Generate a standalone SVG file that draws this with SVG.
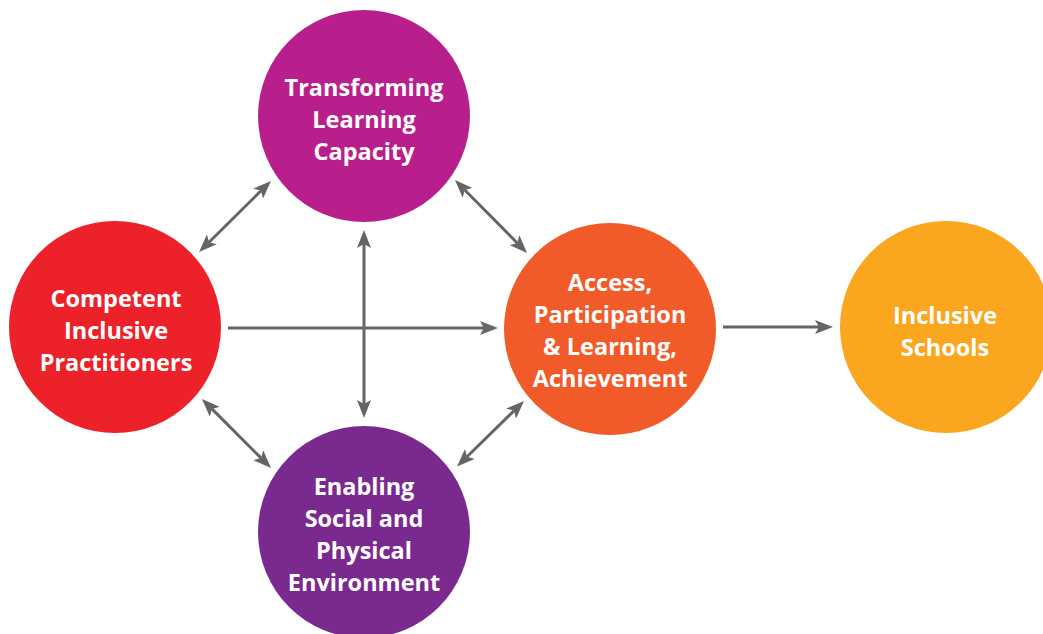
<svg xmlns="http://www.w3.org/2000/svg" width="1043" height="634" viewBox="0 0 1043 634">
<style>
.lbl{font-family:"Open Sans","Liberation Sans",sans-serif;font-weight:700;font-size:23.5px;fill:#fff;text-anchor:middle}
.conn{stroke:#656565;stroke-width:3;fill:none}
</style>
<defs>
<marker id="ah" viewBox="0 0 18 14" refX="4" refY="7" markerWidth="18" markerHeight="14" markerUnits="userSpaceOnUse" orient="auto-start-reverse">
<path d="M0,0 L18,7 L0,14 L4,7 Z" fill="#656565"/>
</marker>
</defs>
<rect width="1043" height="634" fill="#fff"/>
<g id="connectors">
<line class="conn" x1="228" y1="328" x2="484" y2="328" marker-end="url(#ah)"/>
<line class="conn" x1="723" y1="327" x2="819" y2="327" marker-end="url(#ah)"/>
<line class="conn" x1="364" y1="244" x2="364" y2="404" marker-start="url(#ah)" marker-end="url(#ah)"/>
<line class="conn" x1="209" y1="242.2" x2="261" y2="190.8" marker-start="url(#ah)" marker-end="url(#ah)"/>
<line class="conn" x1="464.8" y1="190" x2="517.2" y2="243" marker-start="url(#ah)" marker-end="url(#ah)"/>
<line class="conn" x1="211.9" y1="408.9" x2="261.1" y2="458.1" marker-start="url(#ah)" marker-end="url(#ah)"/>
<line class="conn" x1="514" y1="410.8" x2="467" y2="456.8" marker-start="url(#ah)" marker-end="url(#ah)"/>
</g>
<g id="transforming">
<circle cx="364" cy="116" r="106" fill="#B91F8C"/>
<text class="lbl" x="364" y="96">Transforming</text>
<text class="lbl" x="364" y="128">Learning</text>
<text class="lbl" x="364" y="160">Capacity</text>
</g>
<g id="competent">
<circle cx="115" cy="327" r="106" fill="#EC2129"/>
<text class="lbl" x="116" y="307">Competent</text>
<text class="lbl" x="116" y="339">Inclusive</text>
<text class="lbl" x="116" y="371">Practitioners</text>
</g>
<g id="access">
<circle cx="610" cy="329" r="106" fill="#F15A29"/>
<text class="lbl" x="610" y="291">Access,</text>
<text class="lbl" x="610" y="323">Participation</text>
<text class="lbl" x="610" y="355">&amp; Learning,</text>
<text class="lbl" x="610" y="387">Achievement</text>
</g>
<g id="inclusive">
<circle cx="946" cy="327" r="106" fill="#FAA61F"/>
<text class="lbl" x="945" y="324">Inclusive</text>
<text class="lbl" x="945" y="356">Schools</text>
</g>
<g id="enabling">
<circle cx="364" cy="532" r="106" fill="#7A2A8E"/>
<text class="lbl" x="364" y="495">Enabling</text>
<text class="lbl" x="364" y="527">Social and</text>
<text class="lbl" x="364" y="559">Physical</text>
<text class="lbl" x="364" y="591">Environment</text>
</g>
</svg>
